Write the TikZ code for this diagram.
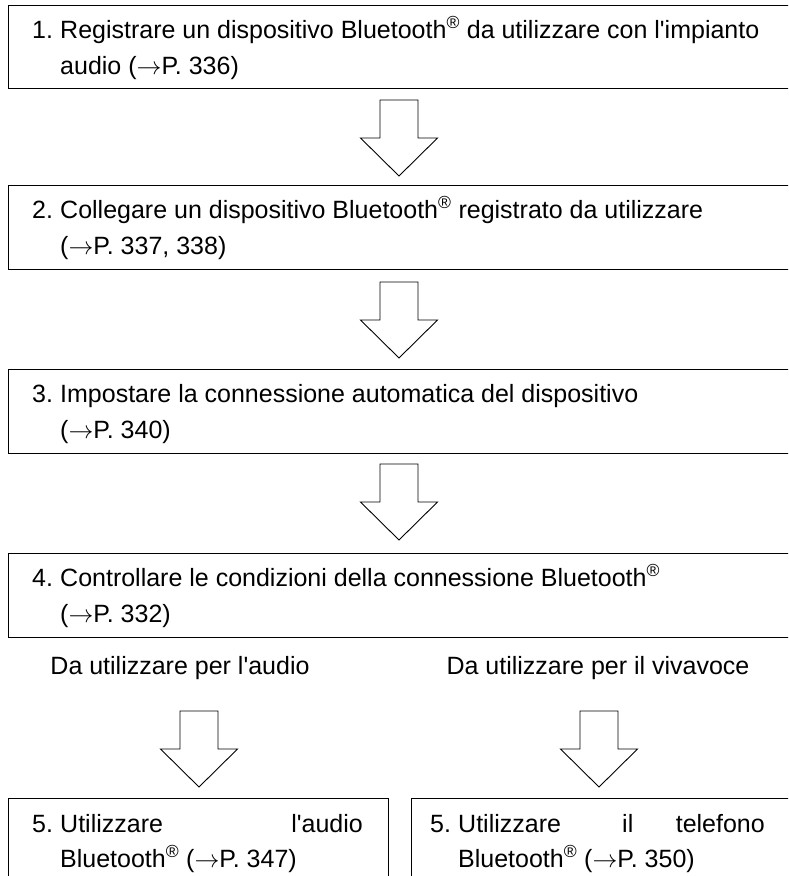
\documentclass[tikz,border=0pt]{standalone}
\usepackage{fontspec}
\newfontfamily\arialike{Liberation Sans}
\tikzset{
  boxline/.style={draw=black, line width=1.2pt},
  txt/.style={anchor=base west, inner sep=0pt, font=\arialike\fontsize{25}{30}\selectfont},
  lbl/.style={anchor=base, inner sep=0pt, font=\arialike\fontsize{25}{30}\selectfont},
  hollow/.style={draw=black, fill=white, line width=0.9pt, line join=miter}
}
\newcommand\hollowarrow[3]{% name, x centre, y top
  \coordinate (#1) at (#2,#3);
  \draw[hollow] ([xshift=-19pt]#1) -- ([xshift=19pt]#1) -- ([xshift=19pt,yshift=-38pt]#1)
    -- ([xshift=38.5pt,yshift=-38pt]#1) -- ([yshift=-76pt]#1) -- ([xshift=-38.5pt,yshift=-38pt]#1)
    -- ([xshift=-19pt,yshift=-38pt]#1) -- cycle;}
\newcommand\reg{\textsuperscript{®}}
\newcommand\ar{$\rightarrow$}
\begin{document}
\begin{tikzpicture}[x=1pt,y=-1pt]
\useasboundingbox (0,0) rectangle (788,876);
\clip (0,0) rectangle (788,876);
% boxes
\node[boxline, anchor=north west, minimum width=792pt, minimum height=83pt, inner sep=0pt] (b1) at (8,5) {};
\node[boxline, anchor=north west, minimum width=792pt, minimum height=84pt, inner sep=0pt] (b2) at (8,185) {};
\node[boxline, anchor=north west, minimum width=792pt, minimum height=84pt, inner sep=0pt] (b3) at (8,369) {};
\node[boxline, anchor=north west, minimum width=792pt, minimum height=84pt, inner sep=0pt] (b4) at (8,553) {};
\node[boxline, anchor=north west, minimum width=380pt, minimum height=110pt, inner sep=0pt] (b5a) at (8,798) {};
\node[boxline, anchor=north west, minimum width=390pt, minimum height=110pt, inner sep=0pt] (b5b) at (411,798) {};
% texts
\node[txt] (t1n) at (32,38) {1.};
\node[txt] (t1a) at (60,38) {Registrare un dispositivo Bluetooth\reg{} da utilizzare con l'impianto};
\node[txt] (t1b) at (60,74) {audio (\ar P. 336)};
\node[txt] (t2n) at (32,218) {2.};
\node[txt] (t2a) at (60,218) {Collegare un dispositivo Bluetooth\reg{} registrato da utilizzare};
\node[txt] (t2b) at (60,254) {(\ar P. 337, 338)};
\node[txt] (t3n) at (32,402) {3.};
\node[txt] (t3a) at (60,402) {Impostare la connessione automatica del dispositivo};
\node[txt] (t3b) at (60,438) {(\ar P. 340)};
\node[txt] (t4n) at (32,586) {4.};
\node[txt] (t4a) at (60,586) {Controllare le condizioni della connessione Bluetooth\reg};
\node[txt] (t4b) at (60,622) {(\ar P. 332)};
\node[lbl] (l1) at (180,674) {Da utilizzare per l'audio};
\node[lbl] (l2) at (598,674) {Da utilizzare per il vivavoce};
\node[txt] (t5n) at (32,832) {5.};
\node[txt] (t5a) at (60,832) {Utilizzare};
\node[txt, anchor=base east] (t5c) at (363,832) {l'audio};
\node[txt] (t5b) at (60,867) {Bluetooth\reg{} (\ar P. 347)};
\node[txt] (t6n) at (430,832) {5.};
\node[txt] (t6a) at (458,832) {Utilizzare};
\node[txt] (t6m) at (622,832) {il};
\node[txt, anchor=base east] (t6c) at (765,832) {telefono};
\node[txt] (t6b) at (458,867) {Bluetooth\reg{} (\ar P. 350)};
% arrows
\hollowarrow{a1}{399}{100}
\hollowarrow{a2}{399}{282}
\hollowarrow{a3}{399}{464}
\hollowarrow{a4}{199}{711}
\hollowarrow{a5}{599}{711}
\end{tikzpicture}
\end{document}
